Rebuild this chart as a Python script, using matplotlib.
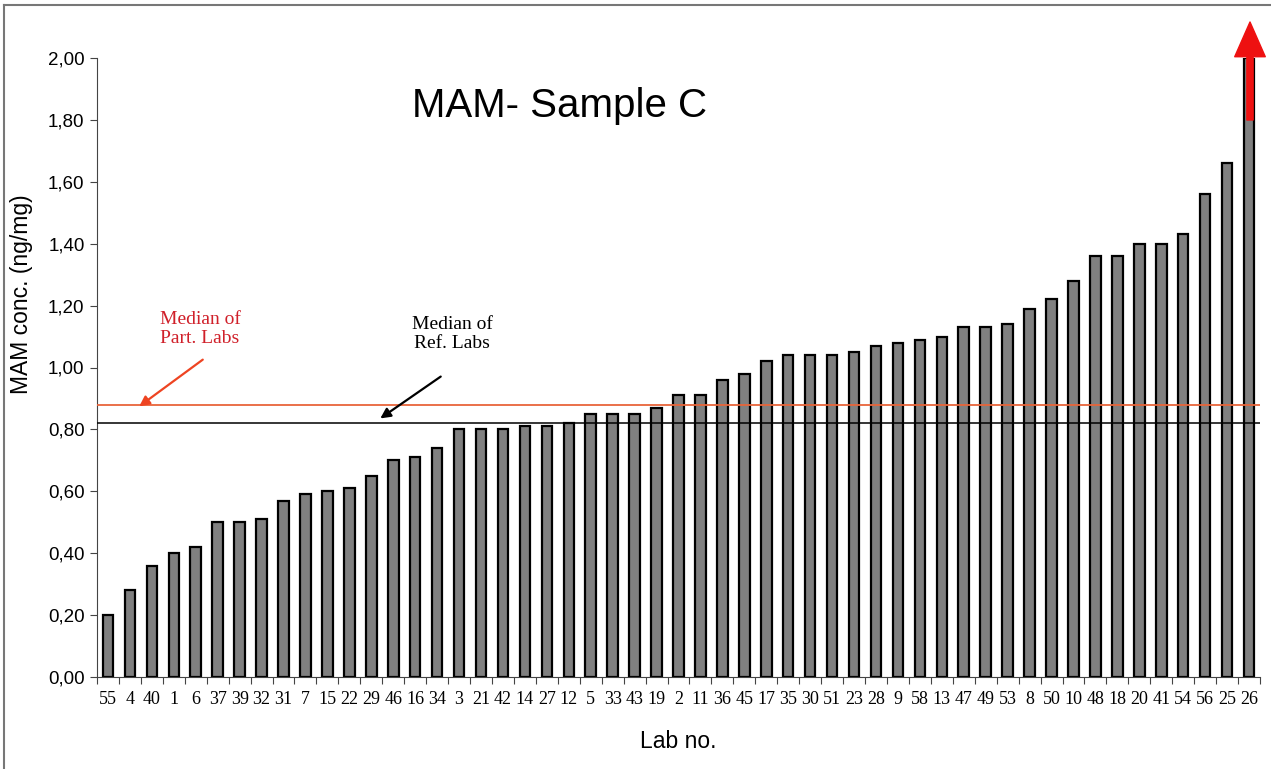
import matplotlib
matplotlib.use("Agg")
import matplotlib.pyplot as plt
from matplotlib.lines import Line2D
import numpy as np

labs = ["55", "4", "40", "1", "6", "37", "39", "32", "31", "7", "15", "22", "29", "46", "16", "34",
        "3", "21", "42", "14", "27", "12", "5", "33", "43", "19", "2", "11", "36", "45", "17", "35",
        "30", "51", "23", "28", "9", "58", "13", "47", "49", "53", "8", "50", "10", "48", "18", "20",
        "41", "54", "56", "25", "26"]
values = [0.20, 0.28, 0.36, 0.40, 0.42, 0.50, 0.50, 0.51, 0.57, 0.59, 0.60, 0.61, 0.65, 0.70, 0.71, 0.74,
          0.80, 0.80, 0.80, 0.81, 0.81, 0.82, 0.85, 0.85, 0.85, 0.87, 0.91, 0.91, 0.96, 0.98, 1.02, 1.04,
          1.04, 1.04, 1.05, 1.07, 1.08, 1.09, 1.10, 1.13, 1.13, 1.14, 1.19, 1.22, 1.28, 1.36, 1.36, 1.40,
          1.40, 1.43, 1.56, 1.66, 2.00]
median_part = 0.88
median_ref = 0.82
yticks = [0.0, 0.2, 0.4, 0.6, 0.8, 1.0, 1.2, 1.4, 1.6, 1.8, 2.0]

fig = plt.figure(figsize=(12.71, 7.69), dpi=100)
ax = fig.add_axes([97/1271, 1-677/769, (1260-97)/1271, (677-58)/769])

x = np.arange(len(labs))
ax.bar(x, values, width=0.48, color="#808080", edgecolor="black", linewidth=1.6, zorder=2)
ax.set_xlim(-0.5, len(labs) - 0.5)
ax.set_ylim(0, 2.0)

ax.axhline(median_part, color="#e8653a", lw=1.3, zorder=3)
ax.axhline(median_ref, color="black", lw=1.1, zorder=3)

ax.set_yticks(yticks)
ax.set_yticklabels([f"{v:.2f}".replace(".", ",") for v in yticks],
                   fontfamily="Liberation Sans", fontsize=13.5)
ax.set_xticks(x)
ax.set_xticklabels(labs, fontfamily="Liberation Serif", fontsize=13)
ax.set_xticks(np.arange(len(labs) + 1) - 0.5, minor=True)
ax.tick_params(axis="x", which="major", length=0, pad=10)
ax.tick_params(axis="x", which="minor", length=5, width=0.8, color="#444444")
ax.tick_params(axis="y", length=5, width=0.8, color="#444444", pad=4)

for s in ["top", "right"]:
    ax.spines[s].set_visible(False)
ax.spines["left"].set_color("#444444")
ax.spines["bottom"].set_color("#444444")

ax.set_ylabel("MAM conc. (ng/mg)", fontfamily="Liberation Sans", fontsize=16.5, va="center")
ax.yaxis.set_label_coords((21 - 97) / 1163, (677 - 294) / 619)
ax.set_xlabel("Lab no.", fontfamily="Liberation Sans", fontsize=16.5, labelpad=16)

fig.text(560/1271, 1-106/769, "MAM- Sample C", fontfamily="Liberation Sans", fontsize=29,
         ha="center", va="center")

# annotations
fig.text(200/1271, 1-329/769, "Median of\nPart. Labs", fontfamily="Liberation Serif", fontsize=14,
         color="#d0202a", ha="center", va="center", linespacing=1.1)
ax.annotate("", xy=(137, 769-408), xycoords="figure pixels",
            xytext=(205, 769-358), textcoords="figure pixels",
            arrowprops=dict(arrowstyle="-|>", color="#ee4422", lw=1.6, mutation_scale=15))
fig.text(452/1271, 1-334/769, "Median of\nRef. Labs", fontfamily="Liberation Serif", fontsize=14,
         color="black", ha="center", va="center", linespacing=1.1)
ax.annotate("", xy=(378, 769-420), xycoords="figure pixels",
            xytext=(443, 769-375), textcoords="figure pixels",
            arrowprops=dict(arrowstyle="-|>", color="black", lw=1.6, mutation_scale=15))

# big red arrow for off-scale value
ax.annotate("", xy=(1250, 769-22), xycoords="figure pixels",
            xytext=(1250, 769-120), textcoords="figure pixels",
            arrowprops=dict(width=4.5, headwidth=22, headlength=25, color="#ee1111",
                            shrink=0.0))

# figure border
fig.add_artist(Line2D([4/1271, 4/1271], [0, 1-5/769], transform=fig.transFigure, color="#777777", lw=1.5))
fig.add_artist(Line2D([4/1271, 1], [1-5/769, 1-5/769], transform=fig.transFigure, color="#777777", lw=1.5))

fig.savefig("out.png", dpi=100)
